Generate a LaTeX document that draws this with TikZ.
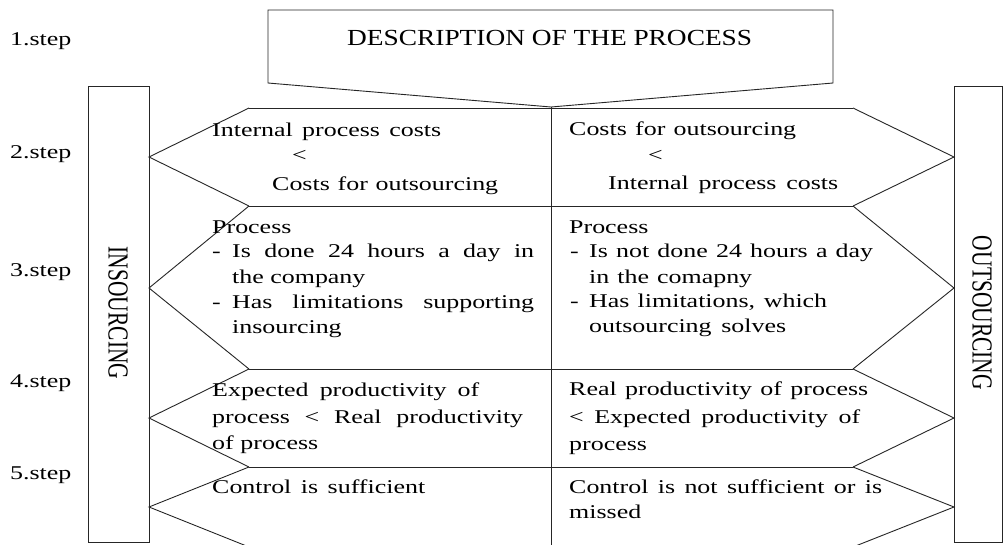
\documentclass[tikz,border=0pt]{standalone}
\usepackage{graphicx}
\usepackage{fontspec}
\setmainfont{Liberation Serif}
\newfontfamily\bodyfamily{Liberation Serif}[FakeStretch=1.33]
\newfontfamily\titlefamily{Liberation Serif}[FakeStretch=1.19]
\newfontfamily\vertfamily{Liberation Serif}
\newcommand\tline[5]{\node[txt] (#1) at (#2) {\makebox[#3pt][s]{#4}#5};}
\newcommand\vtext[1]{\scalebox{1.35}[1]{\rotatebox{-90}{\vertfamily\fontsize{21.5pt}{26pt}\selectfont #1}}}
\tikzset{
  txt/.style={anchor=base west, inner sep=0pt, font=\bodyfamily\fontsize{19.5pt}{25pt}\selectfont},
  ttl/.style={anchor=base west, inner sep=0pt, font=\titlefamily\fontsize{23pt}{27pt}\selectfont},
  frame/.style={draw=black!85, line width=0.9pt, line join=miter},
}
\begin{document}
\begin{tikzpicture}[x=1pt,y=-1pt]
\useasboundingbox (0,0) rectangle (1004,544);
\clip (0,0) rectangle (1004,544);
\fill[white] (0,0) rectangle (1004,544);
% coordinates
\coordinate (c0) at (551,107);
\coordinate (cb) at (551,548);
% title pentagon
\draw[frame] (268,10) -- (833,10) -- (833,83) -- (c0) -- (268,83) -- cycle;
% side boxes
\draw[frame] (88,86) rectangle (149,542);
\draw[frame] (954,86) rectangle (1002,542);
% row lines
\draw[frame] (249,108) -- (853,108);
\draw[frame] (249,206) -- (853,206);
\draw[frame] (249,369) -- (853,369);
\draw[frame] (249,467) -- (853,467);
\draw[frame] (c0) -- (cb);
% left chevrons
\draw[frame] (249,108) -- (149,157) -- (249,206);
\draw[frame] (249,206) -- (149,288) -- (249,369);
\draw[frame] (249,369) -- (149,418) -- (249,467);
\draw[frame] (249,467) -- (149,507) -- (249,547);
% right chevrons
\draw[frame] (853,108) -- (954,157) -- (853,206);
\draw[frame] (853,206) -- (954,288) -- (853,369);
\draw[frame] (853,369) -- (954,418) -- (853,467);
\draw[frame] (853,467) -- (954,507) -- (853,547);
% vertical labels
\node[inner sep=0pt] (ins) at (118,313) {\vtext{INSOURCING}};
\node[inner sep=0pt] (outs) at (982,313) {\vtext{OUTSOURCING}};
% step labels
\node[txt] (s1) at (10,45) {1.step};
\node[txt] (s2) at (10,158) {2.step};
\node[txt] (s3) at (10,276) {3.step};
\node[txt] (s4) at (10,387) {4.step};
\node[txt] (s5) at (10,479) {5.step};
% title
\node[ttl] (title) at (347,45) {\makebox[405pt][s]{DESCRIPTION OF THE PROCESS}};
% row 2
\tline{l2a}{212,136}{229}{Internal process costs}{}
\node[txt] (l2b) at (292,161) {<};
\tline{l2c}{272,190}{226}{Costs for outsourcing}{}
\tline{r2a}{569,135}{227}{Costs for outsourcing}{}
\node[txt] (r2b) at (648,161) {<};
\tline{r2c}{608,189}{230}{Internal process costs}{}
% row 3 left
\node[txt] (l3a) at (212,233) {Process};
\node[txt] (l3d1) at (212,257) {-};
\tline{l3b}{232,257}{302}{Is done 24 hours a day in}{}
\node[txt] (l3c) at (232,283) {the company};
\node[txt] (l3d2) at (212,308) {-};
\tline{l3e}{232,308}{302}{Has limitations supporting}{}
\node[txt] (l3f) at (232,333) {insourcing};
% row 3 right
\node[txt] (r3a) at (569,233) {Process};
\node[txt] (r3d1) at (570,257) {-};
\tline{r3b}{589,257}{284}{Is not done 24 hours a day}{}
\tline{r3c}{589,283}{163}{in the comapny}{}
\node[txt] (r3d2) at (570,307) {-};
\tline{r3e}{589,307}{238}{Has limitations, which}{}
\tline{r3f}{589,332}{197}{outsourcing solves}{}
% row 4
\tline{l4a}{212,396}{267}{Expected productivity of}{}
\tline{l4b}{212,423}{311}{process < Real productivity}{}
\tline{l4c}{212,449}{106}{of process}{}
\tline{r4a}{569,395}{299}{Real productivity of process}{}
\tline{r4b}{569,423}{291}{< Expected productivity of}{}
\node[txt] (r4c) at (569,450) {process};
% row 5
\tline{l5a}{212,493}{213}{Control is sufficient}{}
\tline{r5a}{569,493}{313}{Control is not sufficient or is}{}
\node[txt] (r5b) at (569,518) {missed};
\end{tikzpicture}
\end{document}
